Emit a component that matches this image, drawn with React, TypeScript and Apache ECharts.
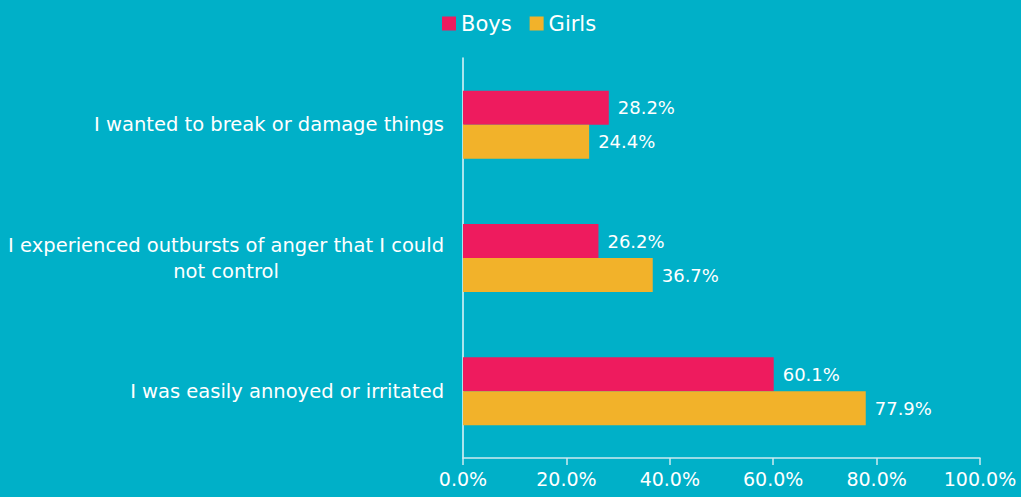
import React, { useEffect, useRef } from "react";
import * as echarts from "echarts";

const categories = [
  "I wanted to break or damage things",
  "I experienced outbursts of anger that I could\nnot control",
  "I was easily annoyed or irritated",
];
const boys = [28.2, 26.2, 60.1];
const girls = [24.4, 36.7, 77.9];
const xTicks = [0, 20, 40, 60, 80, 100];

const FONT = "'DejaVu Sans', sans-serif";

export default function App() {
  const ref = useRef<HTMLDivElement>(null);
  useEffect(() => {
    if (!ref.current) return;
    const chart = echarts.init(ref.current, null, { renderer: "svg" });
    const labelStyle = {
      show: true,
      position: "right" as const,
      distance: 9,
      color: "#ffffff",
      fontSize: 18,
      fontFamily: FONT,
      formatter: (p: any) => p.value.toFixed(1) + "%",
    };
    chart.setOption({
      animation: false,
      backgroundColor: "#00B0C8",
      textStyle: { fontFamily: FONT },
      legend: {
        top: 8,
        left: 437,
        itemWidth: 14,
        itemHeight: 14,
        itemGap: 18,
        icon: "rect",
        textStyle: { color: "#ffffff", fontSize: 21, fontFamily: FONT },
        data: ["Boys", "Girls"],
      },
      grid: { left: 463, right: 41, top: 58, bottom: 39, containLabel: false },
      xAxis: {
        type: "value",
        min: xTicks[0],
        max: xTicks[xTicks.length - 1],
        interval: 20,
        axisLine: { show: true, lineStyle: { color: "#cdeaf0", width: 1.5 } },
        axisTick: { show: true, length: 7, lineStyle: { color: "#cdeaf0", width: 1.5 } },
        splitLine: { show: false },
        axisLabel: {
          color: "#ffffff",
          fontSize: 19,
          fontFamily: FONT,
          margin: 11,
          formatter: (v: number) => v.toFixed(1) + "%",
        },
      },
      yAxis: {
        type: "category",
        inverse: true,
        data: categories,
        axisLine: { show: true, lineStyle: { color: "#e6f6f9", width: 1.5 } },
        axisTick: { show: false },
        axisLabel: {
          color: "#ffffff",
          fontSize: 19.5,
          fontFamily: FONT,
          margin: 19,
          lineHeight: 26,
          formatter: (v: string) =>
            v
              .split("\n")
              .map((l) => "{c|" + l + "}")
              .join("\n"),
          rich: {
            c: { align: "center", color: "#ffffff", fontSize: 19.5, fontFamily: FONT, lineHeight: 26 },
          },
        },
      },
      series: [
        {
          name: "Boys",
          type: "bar",
          data: boys,
          barWidth: 34,
          barGap: "0%",
          itemStyle: { color: "#EE1B5E" },
          label: labelStyle,
        },
        {
          name: "Girls",
          type: "bar",
          data: girls,
          barWidth: 34,
          barGap: "0%",
          itemStyle: { color: "#F2B22A" },
          label: labelStyle,
        },
      ],
    });
    return () => chart.dispose();
  }, []);
  return <div ref={ref} style={{ width: 1021, height: 497, position: "absolute", left: 0, top: 0 }} />;
}
